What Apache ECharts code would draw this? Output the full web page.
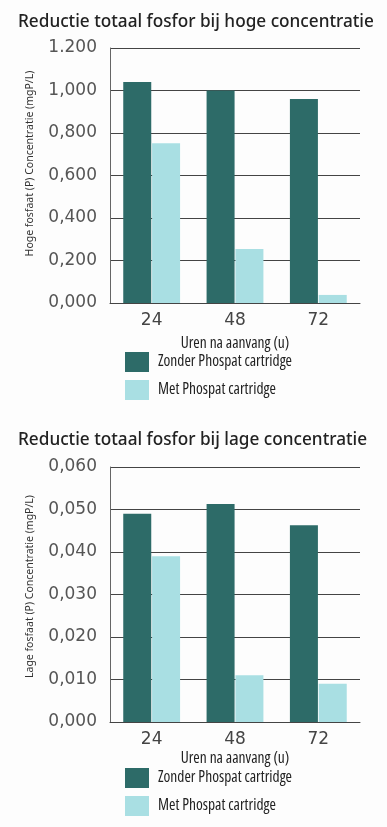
<!DOCTYPE html>
<html>
<head>
<meta charset="utf-8">
<script src="https://cdn.jsdelivr.net/npm/echarts@6/dist/echarts.min.js"></script>
<style>
html,body{margin:0;padding:0;background:#fdfdfd;}
#c{width:387px;height:827px;}
</style>
</head>
<body>
<div id="c"></div>
<script>
const categories = ["24", "48", "72"];
const seriesNames = ["Zonder Phospat cartridge", "Met Phospat cartridge"];
const hogeZonder = [1.040, 1.000, 0.960];
const hogeMet = [0.752, 0.254, 0.038];
const lageZonder = [0.049, 0.0513, 0.0463];
const lageMet = [0.039, 0.011, 0.009];
const hogeTicks = ["0,000", "0,200", "0,400", "0,600", "0,800", "1,000", "1.200"];
const lageTicks = ["0,000", "0,010", "0,020", "0,030", "0,040", "0,050", "0,060"];
const titles = ["Reductie totaal fosfor bij hoge concentratie", "Reductie totaal fosfor bij lage concentratie"];
const yNames = ["Hoge fosfaat (P) Concentratie (mgP/L)", "Lage fosfaat (P) Concentratie (mgP/L)"];
const xName = "Uren na aanvang (u)";

const DARK = "#2d6b68";
const LIGHT = "#a9dfe3";
const OS = "'Open Sans', sans-serif";
const NOTO = "'Noto Sans', sans-serif";
const NUM = "'DejaVu Sans', sans-serif";

const chart = echarts.init(document.getElementById('c'), null, {renderer: 'canvas'});

function yAxis(idx, max, interval, ticks, name, shift) {
  return {
    type: 'value', gridIndex: idx, min: 0, max: max, interval: interval,
    name: name, nameLocation: 'middle', nameRotate: 90, nameGap: 74,
    nameTextStyle: {fontFamily: NOTO, fontStyle: 'normal', fontWeight: 'condensed', fontSize: 10.5, color: '#333', padding: [0, 0, 0, shift]},
    axisLine: {show: true, lineStyle: {color: '#666', width: 1}},
    axisTick: {show: false},
    axisLabel: {
      margin: 13, fontFamily: NUM, fontSize: 17, color: '#555',
      formatter: function (v) { return ticks[Math.round(v / interval)]; }
    },
    splitLine: {show: true, lineStyle: {color: '#444', width: 1}}
  };
}
function xAxis(idx, gap) {
  return {
    type: 'category', gridIndex: idx, data: categories,
    name: xName, nameLocation: 'middle', nameGap: gap,
    nameTextStyle: {fontFamily: OS, fontStyle: 'normal', fontWeight: 'condensed', fontSize: 15.5, color: '#222'},
    axisLine: {show: true, lineStyle: {color: '#444', width: 1}},
    axisTick: {show: false},
    axisLabel: {margin: 9, fontFamily: NUM, fontSize: 17, color: '#444'}
  };
}
function bar(name, data, idx, color) {
  return {
    type: 'bar', name: name, data: data, xAxisIndex: idx, yAxisIndex: idx,
    barWidth: 28, barGap: '3%', itemStyle: {color: color}
  };
}
function legend(top) {
  return {
    left: 125, top: top, padding: 0, orient: 'vertical', itemWidth: 24, itemHeight: 20, itemGap: 8,
    icon: 'rect', data: seriesNames, selectedMode: false,
    textStyle: {fontFamily: OS, fontStyle: 'normal', fontWeight: 'condensed', fontSize: 15.5, color: '#222', padding: [0, 0, 0, 4]}
  };
}
const titleStyle = {fontFamily: NOTO, fontStyle: 'normal', fontWeight: '500 condensed', fontSize: 17.2, color: '#222'};

chart.setOption({
  animation: false,
  backgroundColor: '#fdfdfd',
  title: [
    {text: titles[0], left: 18, top: 14, padding: 0, textStyle: titleStyle},
    {text: titles[1], left: 18, top: 432, padding: 0, textStyle: titleStyle}
  ],
  grid: [
    {left: 110, top: 48, width: 250, height: 255},
    {left: 110, top: 467, width: 250, height: 255}
  ],
  xAxis: [xAxis(0, 33), xAxis(1, 29)],
  yAxis: [yAxis(0, 1.2, 0.2, hogeTicks, yNames[0], 24), yAxis(1, 0.06, 0.01, lageTicks, yNames[1], 16)],
  legend: [legend(352), legend(768)],
  series: [
    bar(seriesNames[0], hogeZonder, 0, DARK),
    bar(seriesNames[1], hogeMet, 0, LIGHT),
    bar(seriesNames[0], lageZonder, 1, DARK),
    bar(seriesNames[1], lageMet, 1, LIGHT)
  ]
});
</script>
</body>
</html>
